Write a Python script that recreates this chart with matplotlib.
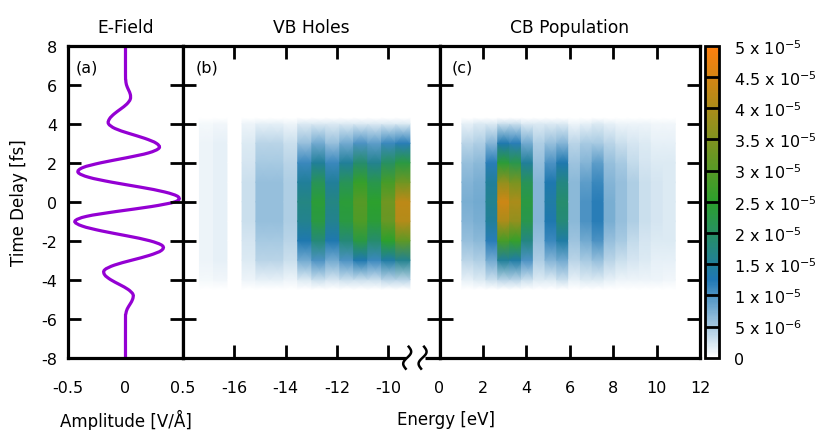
import matplotlib
matplotlib.use('Agg')
import matplotlib.pyplot as plt
import numpy as np
from matplotlib.colors import LinearSegmentedColormap, Normalize
from matplotlib.cm import ScalarMappable
from matplotlib.path import Path
from matplotlib.patches import PathPatch
import matplotlib.transforms as mtransforms

plt.rcParams['font.family'] = ['DejaVu Sans']
plt.rcParams['axes.unicode_minus'] = False

# ---- E-field (panel a): time delay [fs] vs amplitude [V/A]
field_t = [-8.0] + list(np.arange(-6.0, 6.51, 0.25)) + [8.0]
field_amp = [0.0,
             0.0, 0.003, 0.015, 0.04, 0.062, 0.065, 0.023, -0.051, -0.129, -0.181,
             -0.182, -0.096, 0.054, 0.209, 0.312, 0.320, 0.209, 0.012, -0.207, -0.376,
             -0.44, -0.338, -0.077, 0.224, 0.433, 0.459, 0.340, 0.126, -0.119, -0.318,
             -0.412, -0.371, -0.211, 0.006, 0.199, 0.292, 0.267, 0.167, 0.031, -0.090,
             -0.148, -0.139, -0.099, -0.043, 0.010, 0.041, 0.042, 0.025, 0.008, 0.002, 0.0,
             0.0]

# ---- heat maps: time samples and per-bin profiles (units of 1e-6)
delay = [-4.5, -4, -3, -2, -1, 0, 1, 2, 3, 4, 4.3]
BIN_WIDTH = 0.544

vb_energy = [-17.08, -16.53, -15.97, -15.42, -14.88, -14.34, -13.79, -13.25,
             -12.70, -12.16, -11.61, -11.07, -10.52, -9.98, -9.43]
vb_holes = [
    [0, 0.6, 1.0, 1.0, 1.0, 1.0, 1.0, 1.0, 1.0, 0.6, 0],
    [0, 0.8, 1.4, 1.5, 1.5, 1.5, 1.5, 1.5, 1.4, 0.8, 0],
    [0, 0, 0, 0, 0, 0, 0, 0, 0, 0, 0],
    [0, 1, 2, 2.5, 3, 3, 3, 2.5, 2, 1, 0],
    [0, 1.5, 4, 5, 6, 6, 6, 5, 4, 1.5, 0],
    [0, 1.5, 4, 5, 6, 6, 6, 5, 4, 1.5, 0],
    [0, 1, 3, 4, 4.5, 4.5, 4.5, 4, 3, 1, 0],
    [0, 2, 8, 13, 16, 17, 15, 11, 6, 2, 0],
    [0, 3, 10, 18, 23, 24, 21, 15, 8, 2, 0],
    [0, 2.5, 8, 13, 16, 17, 15, 11, 6, 2, 0],
    [0, 3, 10, 18, 23, 24, 21, 15, 8, 2, 0],
    [0, 3, 13, 23, 29, 30, 26, 19, 10, 2, 0],
    [0, 3, 11, 19, 24, 25, 22, 16, 9, 2, 0],
    [0, 4, 14, 25, 32, 33, 28, 20, 11, 2, 0],
    [0, 4, 16, 31, 41, 42, 33, 23, 12, 2, 0],
]

cb_energy = [1.31, 1.86, 2.42, 2.96, 3.51, 4.05, 4.60, 5.14, 5.68, 6.23,
             6.77, 7.31, 7.86, 8.40, 8.94, 9.49, 10.03, 10.58]
cb_pop = [
    [0, 1.5, 4, 6, 7, 7.5, 7, 6, 4, 1.5, 0],
    [0, 2, 4.5, 6.5, 7.5, 8, 7.5, 6.5, 4.5, 2, 0],
    [0, 3, 8, 12, 15, 16, 15, 12, 7, 2, 0],
    [0, 4, 15, 28, 40, 44, 37, 24, 13, 3, 0],
    [0, 4, 14, 26, 37, 40, 34, 22, 12, 3, 0],
    [0, 3, 10, 17, 22, 23, 21, 15, 8, 2, 0],
    [0, 2, 4.5, 6, 7, 7, 7, 6, 4.5, 2, 0],
    [0, 2, 7, 11, 13, 14, 13, 10, 6, 2, 0],
    [0, 3, 8, 14, 18, 19, 17, 13, 7, 2, 0],
    [0, 1.5, 4, 5.5, 6.5, 6.5, 6.5, 5.5, 4, 1, 0],
    [0, 2, 5, 8, 10, 10, 9, 7, 5, 1.5, 0],
    [0, 2, 6, 10, 12, 12, 11, 9, 5, 2, 0],
    [0, 1.5, 4, 6, 7.5, 7.5, 7, 6, 4, 1.5, 0],
    [0, 1, 3, 5, 6, 6, 6, 5, 3, 1, 0],
    [0, 1, 2.5, 3.5, 4.5, 4.5, 4.5, 3.5, 2.5, 1, 0],
    [0, 1, 2, 2.5, 3, 3, 3, 2.5, 2, 1, 0],
    [0, 1, 1.5, 2, 2.5, 2.5, 2.5, 2, 1.5, 0.8, 0],
    [0, 0.8, 1.5, 2, 2, 2, 2, 2, 1.5, 0.8, 0],
]

cbar_levels = np.arange(0, 5.01e-5, 5e-6)
cbar_labels = ['0', r'5 x 10$^{-6}$', r'1 x 10$^{-5}$', r'1.5 x 10$^{-5}$',
               r'2 x 10$^{-5}$', r'2.5 x 10$^{-5}$', r'3 x 10$^{-5}$',
               r'3.5 x 10$^{-5}$', r'4 x 10$^{-5}$', r'4.5 x 10$^{-5}$',
               r'5 x 10$^{-5}$']

cmap = LinearSegmentedColormap.from_list(
    'wbgo', [(0, '#ffffff'), (0.25, '#1f77b4'), (0.5, '#2ca02c'), (1.0, '#ff7f0e')])
norm = Normalize(vmin=0, vmax=5e-5)

W, H = 816, 431
LW = 2.3
FS_TICK = 11.5
FS_LAB = 12
FS_TITLE = 12.3
TICK = dict(direction='in', length=9.5, width=2.0, labelsize=FS_TICK)


def box(l, t, r, b):
    return [l / W, 1 - b / H, (r - l) / W, (b - t) / H]


def style(ax):
    for s in ax.spines.values():
        s.set_linewidth(LW)
    ax.tick_params(axis='both', which='both', top=True, right=True, **TICK)
    ax.tick_params(axis='x', pad=16)
    ax.tick_params(axis='y', pad=8)


def draw_bins(ax, energies, rows):
    t = np.array(delay)
    for e, row in zip(energies, rows):
        xx = np.column_stack([np.full(len(t), e - BIN_WIDTH / 2 - 0.005),
                              np.full(len(t), e + BIN_WIDTH / 2 + 0.005)])
        yy = np.column_stack([t, t])
        v = np.array(row) * 1e-6
        cc = np.column_stack([v, v])
        ax.pcolormesh(xx, yy, cc, shading='gouraud', cmap=cmap, norm=norm)


def smooth_path(x, y):
    # Catmull-Rom curve through the read points, drawn as cubic Beziers
    p = np.column_stack([x, y])
    n = len(p)
    verts = [p[0]]
    codes = [Path.MOVETO]
    for i in range(n - 1):
        p0, p1 = p[max(i - 1, 0)], p[i]
        p2, p3 = p[i + 1], p[min(i + 2, n - 1)]
        verts += [p1 + (p2 - p0) / 6, p2 - (p3 - p1) / 6, p2]
        codes += [Path.CURVE4] * 3
    return Path(verts, codes)


fig = plt.figure(figsize=(W / 100, H / 100), dpi=100)

TOP, BOT = 46.7, 358.7
ax_a = fig.add_axes(box(68, TOP, 183, BOT))
ax_b = fig.add_axes(box(183, TOP, 439.5, BOT))
ax_c = fig.add_axes(box(439.5, TOP, 700, BOT))
cax = fig.add_axes(box(705, TOP, 719, BOT))

# panel a
ax_a.add_patch(PathPatch(smooth_path(field_amp, field_t), fill=False,
                         edgecolor='#9400d3', lw=2.3))
ax_a.set_xlim(-0.5, 0.5)
ax_a.set_ylim(-8, 8)
ax_a.set_xticks([-0.5, 0, 0.5])
ax_a.set_xticklabels(['-0.5', '0', '0.5'])
ax_a.set_yticks(np.arange(-8, 9, 2))
style(ax_a)
ax_a.tick_params(axis='x', length=0)
ax_a.set_title('E-Field', fontsize=FS_TITLE, pad=10)
ax_a.text(0.07, 0.955, '(a)', transform=ax_a.transAxes, fontsize=FS_TICK, va='top', ha='left')

# panel b
draw_bins(ax_b, vb_energy, vb_holes)
ax_b.set_xlim(-18, -8)
ax_b.set_ylim(-8, 8)
ax_b.set_xticks([-16, -14, -12, -10])
ax_b.set_yticks(np.arange(-8, 9, 2))
style(ax_b)
ax_b.tick_params(axis='y', labelleft=False)
ax_b.set_title('VB Holes', fontsize=FS_TITLE, pad=10)
ax_b.text(0.05, 0.955, '(b)', transform=ax_b.transAxes, fontsize=FS_TICK, va='top', ha='left')
ax_b.spines['bottom'].set_bounds(-18, -9.38)
trans = mtransforms.blended_transform_factory(ax_b.transData, ax_b.transAxes)
ax_b.plot([-8.55, -8], [0, 0], color='black', lw=LW, transform=trans,
          clip_on=False, solid_capstyle='butt')
# break marks (decoration): vertical S-shaped squiggles
px_x = 10 / 256.5
px_y = 1 / 312.0
s = np.linspace(-1, 1, 40)
for xb in [-9.26, -8.66]:
    ax_b.plot(xb + px_x * (-3.2 * np.sin(np.pi * s) - 1.5 * s), 11 * s * px_y * -1,
              color='black', lw=1.8, transform=trans, clip_on=False)

# panel c
draw_bins(ax_c, cb_energy, cb_pop)
ax_c.set_xlim(0, 12)
ax_c.set_ylim(-8, 8)
ax_c.set_xticks(np.arange(0, 13, 2))
ax_c.set_yticks(np.arange(-8, 9, 2))
style(ax_c)
ax_c.tick_params(axis='y', labelleft=False)
ax_c.set_title('CB Population', fontsize=FS_TITLE, pad=10)
ax_c.text(0.045, 0.955, '(c)', transform=ax_c.transAxes, fontsize=FS_TICK, va='top', ha='left')

# colour bar
cb = fig.colorbar(ScalarMappable(norm=norm, cmap=cmap), cax=cax, ticks=cbar_levels)
cb.set_ticklabels(cbar_labels)
cb.outline.set_linewidth(2.0)
cax.tick_params(length=0, pad=11, labelsize=FS_TICK)
for lv in cbar_levels[1:-1]:
    cax.axhline(lv, color='black', lw=2.0)

fig.text(19 / W, 1 - 202.7 / H, 'Time Delay [fs]', rotation=90, fontsize=FS_LAB,
         ha='center', va='center')
fig.text(125.5 / W, 1 - 420 / H, 'Amplitude [V/\u00c5]', fontsize=FS_LAB,
         ha='center', va='center')
fig.text(446 / W, 1 - 420 / H, 'Energy [eV]', fontsize=FS_LAB, ha='center', va='center')

fig.savefig('out.png', dpi=100)
